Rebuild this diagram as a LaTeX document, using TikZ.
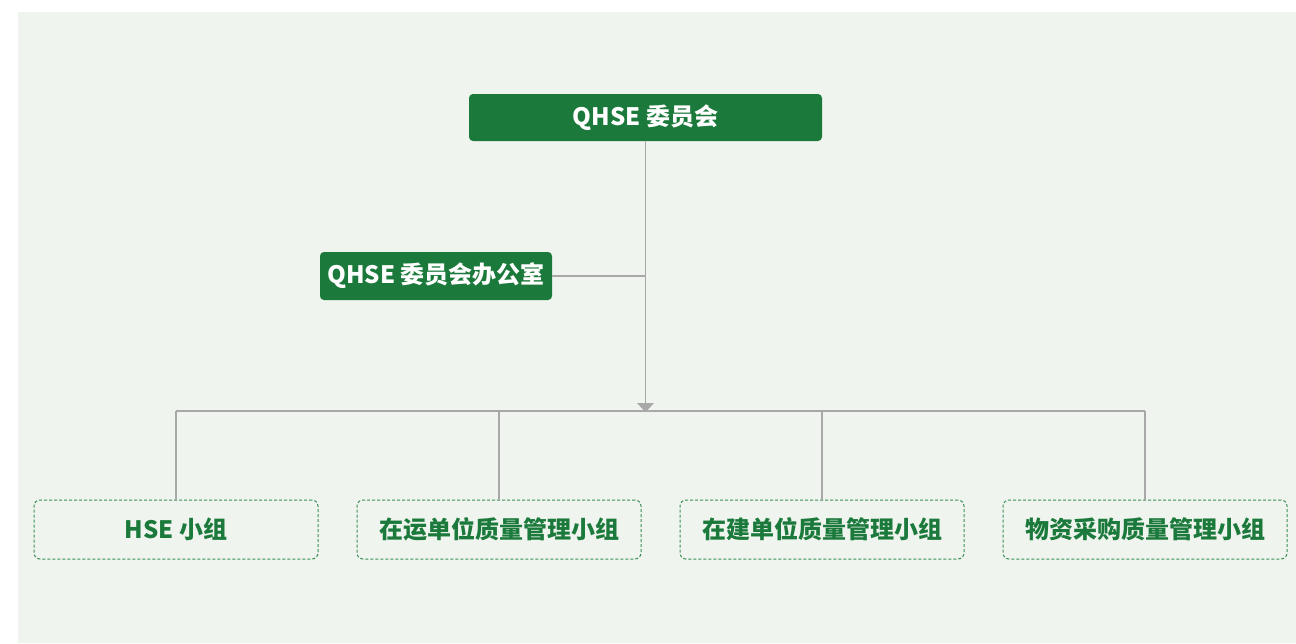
\documentclass[tikz,border=0pt]{standalone}
\usepackage{fontspec}
\newfontfamily\cjk{Noto Sans CJK SC}
\usetikzlibrary{arrows.meta, positioning}
\definecolor{qgreen}{HTML}{1B7A3B}
\definecolor{qback}{HTML}{EFF4EE}
\definecolor{qline}{HTML}{A8A8A8}
\definecolor{qdash}{HTML}{3A8F57}

\begin{document}
\begin{tikzpicture}[
  x=1pt, y=-1pt,
  node distance=38pt,
  head/.style={rectangle, fill=qgreen, text=white, rounded corners=4pt, minimum height=47pt, inner sep=0pt},
  group/.style={rectangle, draw=qdash, dashed, dash pattern=on 3pt off 2pt, line width=1pt, rounded corners=6pt, text=qgreen, minimum width=284pt, minimum height=59pt, inner sep=0pt},
  link/.style={draw=qline, line width=1.2pt},
  every node/.style={font=\cjk\bfseries\fontsize{24}{28}\selectfont}
]

% page and background
\useasboundingbox (0,0) rectangle (1296,643);
\fill[qback] (18,12) rectangle (1296,643);

% committee and office
\node[head, minimum width=353pt] (committee) at (645.5,117.5) {QHSE 委员会};
\node[head, minimum width=232pt, minimum height=48pt] (office) at (436,276) {QHSE 委员会办公室};

% working groups
\node[group] (hse) at (176,529.5) {HSE 小组};
\node[group, right=of hse] (running) {在运单位质量管理小组};
\node[group, right=of running] (building) {在建单位质量管理小组};
\node[group, right=of building] (purchase) {物资采购质量管理小组};

% bus line
\coordinate (bus) at (committee.south |- 0,411);

% connectors
\draw[link, -{Triangle[width=17pt, length=9pt]}, shorten >=-1pt] (committee.south) -- (bus);
\draw[link] (office.east) -- (office.east -| committee.south);
\draw[link] (bus -| hse.north) -- (bus -| purchase.north);
\foreach \g in {hse, running, building, purchase} {
  \draw[link] (bus -| \g.north) -- (\g.north);
}

\end{tikzpicture}
\end{document}
